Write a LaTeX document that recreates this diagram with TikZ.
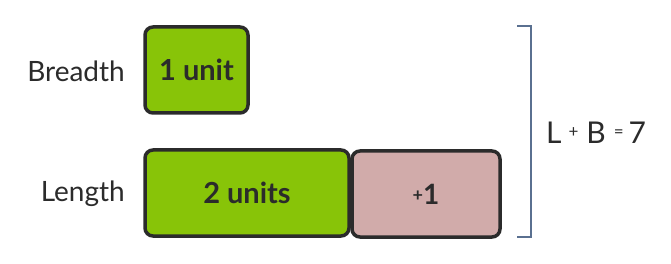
\documentclass[tikz,border=0pt]{standalone}
\usepackage{fontspec}
\setmainfont{Lato}
\definecolor{ink}{HTML}{2B2B2B}
\definecolor{barg}{HTML}{88C408}
\definecolor{barp}{HTML}{D1ABAA}
\definecolor{brk}{HTML}{5A7090}
\newcommand{\smop}[1]{\raisebox{0.22em}{\fontsize{17}{18}\selectfont #1}}
\begin{document}
\begin{tikzpicture}[x=1pt,y=-1pt,
  bar/.style={draw=ink,line width=3.5pt,rounded corners=8pt,inner sep=0pt,font=\fontsize{29}{32}\selectfont\bfseries,text=ink},
  lbl/.style={font=\fontsize{28}{32}\selectfont,text=ink,anchor=east,inner sep=0pt}]
\useasboundingbox (0,0) rectangle (671,264);
\node[bar,fill=barg,minimum width=103pt,minimum height=86pt] (b) at (196.5,70) {1 unit};
\node[bar,fill=barg,minimum width=204pt,minimum height=86pt] (l) at (247,193) {2 units};
\node[bar,fill=barp,minimum width=148pt,minimum height=86pt,font=\fontsize{28}{30}\selectfont\bfseries] (p) at (426,194) {{\fontsize{18}{20}\selectfont\raisebox{0.15em}{+}}1};
\node[lbl] (bl) at (125,71) {Breadth};
\node[lbl] (ll) at (125,194) {Length};
\coordinate (t) at (517,26);
\coordinate (bt) at (517,237);
\draw[brk,line width=2.8pt] (t) -- ++(14,0) |- (bt);
\node[font=\fontsize{30}{34}\selectfont,text=ink,anchor=west,inner sep=0pt] (eq) at (546,133) {L\hspace{7pt}\smop{+}\hspace{8pt}B\hspace{8pt}\smop{=}\hspace{5pt}7};
\end{tikzpicture}
\end{document}
